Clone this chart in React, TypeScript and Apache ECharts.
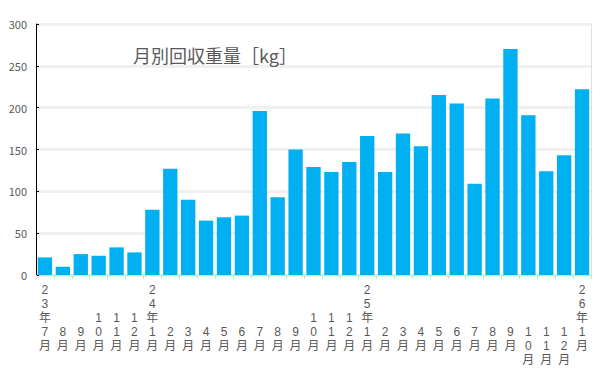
import React, { useEffect, useRef } from "react";
import * as echarts from "echarts";

const categories = [
  "23年7月", "8月", "9月", "10月", "11月", "12月",
  "24年1月", "2月", "3月", "4月", "5月", "6月", "7月", "8月", "9月", "10月", "11月", "12月",
  "25年1月", "2月", "3月", "4月", "5月", "6月", "7月", "8月", "9月", "10月", "11月", "12月",
  "26年1月",
];
const weights = [
  21, 10, 25, 23, 33, 27,
  78, 127, 90, 65, 69, 71, 196, 93, 150, 129, 123, 135,
  166, 123, 169, 154, 215, 205, 109, 211, 270, 191, 124, 143,
  222,
];
const yTicks = [0, 50, 100, 150, 200, 250, 300];
const chartTitle = "月別回収重量［kg］";
// the last three 2025 labels sit one row lower in the reference
const loweredLabels = [27, 28, 29];

export default function App() {
  const ref = useRef<HTMLDivElement>(null);
  useEffect(() => {
    if (!ref.current) return;
    const chart = echarts.init(ref.current, null, { renderer: "svg" });
    const labelColor = "#595959";
    const font = "'Noto Sans CJK JP', 'Noto Sans', sans-serif";
    const labelFont = "'Liberation Sans', 'Noto Sans CJK JP', sans-serif";
    chart.setOption({
      animation: false,
      backgroundColor: "#ffffff",
      title: {
        text: chartTitle,
        left: 128,
        top: 41,
        textStyle: { color: labelColor, fontSize: 18, fontWeight: "normal", fontFamily: font },
      },
      grid: { left: 36, right: 18, top: 24, bottom: 107, containLabel: false },
      xAxis: {
        type: "category",
        data: categories,
        axisLine: { lineStyle: { color: "#d9d9d9", width: 1 } },
        axisTick: { show: true, alignWithLabel: false, length: 4, lineStyle: { color: "#d9d9d9" } },
        axisLabel: {
          interval: 0,
          margin: 8,
          color: labelColor,
          fontSize: 12,
          lineHeight: 14,
          fontFamily: labelFont,
          verticalAlign: "top",
          formatter: (v: string, i: number) => {
            const chars = v.split("");
            const rows = loweredLabels.includes(i) ? 6 : 5;
            const pad: string[] = [];
            for (let k = chars.length; k < rows; k++) pad.push(" ");
            return pad.concat(chars).join("\n");
          },
        },
      },
      yAxis: [
        {
          type: "value",
          min: yTicks[0],
          max: yTicks[yTicks.length - 1],
          interval: 50,
          axisLine: { show: true, lineStyle: { color: "#000000", width: 1 } },
          axisTick: { show: true, inside: true, length: 3, lineStyle: { color: "#000000" } },
          axisLabel: { color: labelColor, fontSize: 11, margin: 9, fontFamily: font },
          splitLine: { show: true, lineStyle: { color: "#f0f0f0", width: 3 } },
        },
        {
          type: "value",
          position: "right",
          min: yTicks[0],
          max: yTicks[yTicks.length - 1],
          interval: 50,
          axisLine: { show: true, lineStyle: { color: "#dde0ea", width: 1 } },
          axisTick: { show: false },
          axisLabel: { show: false },
          splitLine: { show: false },
        },
      ],
      series: [
        {
          type: "bar",
          data: weights,
          yAxisIndex: 0,
          barCategoryGap: "20%",
          itemStyle: { color: "#00b0f0" },
        },
      ],
    });
    return () => chart.dispose();
  }, []);
  return (
    <div
      ref={ref}
      style={{ position: "fixed", left: 0, top: 0, width: 609, height: 382, background: "#fff" }}
    />
  );
}
